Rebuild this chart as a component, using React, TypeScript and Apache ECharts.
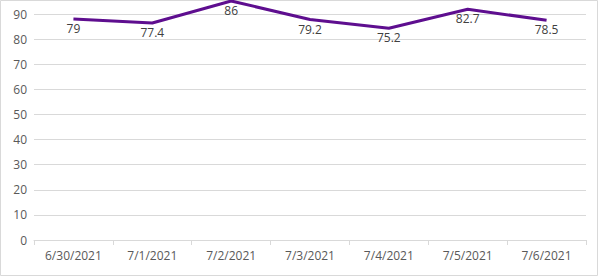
import React, { useEffect, useRef } from "react";
import * as echarts from "echarts";

const categories = ["6/30/2021", "7/1/2021", "7/2/2021", "7/3/2021", "7/4/2021", "7/5/2021", "7/6/2021"];
const plottedValues = [88.0, 86.4, 95.2, 87.8, 84.3, 91.9, 87.5];
const labelValues = [79, 77.4, 86, 79.2, 75.2, 82.7, 78.5];
const yTicks = [0, 10, 20, 30, 40, 50, 60, 70, 80, 90, 100];

export default function App() {
  const ref = useRef<HTMLDivElement>(null);
  useEffect(() => {
    document.body.style.margin = "0";
    const chart = echarts.init(ref.current!, null, { renderer: "svg" });
    const font = "'Open Sans', sans-serif";
    chart.setOption({
      animation: false,
      graphic: [
        {
          type: "rect",
          shape: { x: 0.5, y: 0.5, width: 597, height: 275 },
          style: { fill: "none", stroke: "#d9d9d9", lineWidth: 1 },
          silent: true,
          z: -10,
        },
      ],
      grid: { left: 34, right: 14, top: -11.1, bottom: 36, containLabel: false, outerBoundsMode: "none" },
      xAxis: {
        type: "category",
        data: categories,
        boundaryGap: true,
        axisLine: { lineStyle: { color: "#d9d9d9", width: 1 } },
        axisTick: { show: true, length: 5, lineStyle: { color: "#d9d9d9" } },
        axisLabel: { color: "#595959", fontSize: 12, fontFamily: font, margin: 9 },
        splitLine: { show: false },
      },
      yAxis: {
        type: "value",
        min: yTicks[0],
        max: yTicks[yTicks.length - 1],
        interval: 10,
        axisLine: { show: false },
        axisTick: { show: false },
        axisLabel: { color: "#595959", fontSize: 12, fontFamily: font, margin: 7, showMaxLabel: false },
        splitLine: { lineStyle: { color: "#d9d9d9", width: 1 } },
      },
      series: [
        {
          type: "line",
          data: plottedValues,
          symbol: "circle",
          symbolSize: 1,
          showSymbol: true,
          lineStyle: { color: "#5e0e8f", width: 3 },
          itemStyle: { color: "rgba(0,0,0,0)" },
          label: {
            show: true,
            position: "bottom",
            distance: 3,
            color: "#404040",
            fontSize: 12,
            fontFamily: font,
            formatter: (p: any) => String(labelValues[p.dataIndex]),
          },
        },
      ],
    });
    return () => chart.dispose();
  }, []);
  return <div ref={ref} style={{ width: 600, height: 276 }} />;
}
